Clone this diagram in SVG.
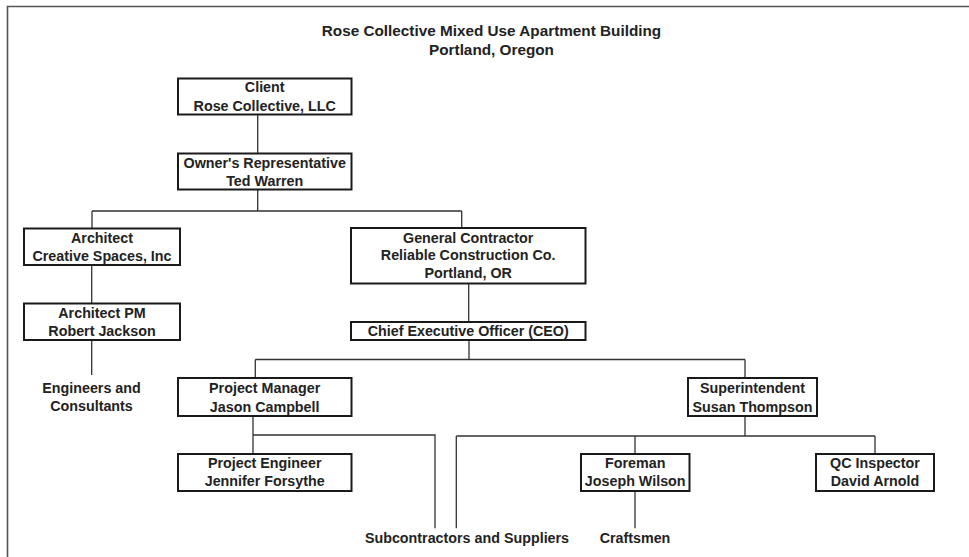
<svg xmlns="http://www.w3.org/2000/svg" width="969" height="557" viewBox="0 0 969 557">
  <style>
    .frame { fill: none; stroke: #555; stroke-width: 1.6; }
    .box { fill: #fff; stroke: #1a1a1a; stroke-width: 2; }
    .wire { fill: none; stroke: #333; stroke-width: 1.3; }
    text { font-family: "Liberation Sans", Arial, sans-serif; font-weight: bold; fill: #222; text-anchor: middle; }
    .title { font-size: 15.3px; }
    .lbl { font-size: 14.3px; }
  </style>
  <rect width="969" height="557" fill="#fff"/>

  <!-- page frame: top and left edges only -->
  <path class="frame" d="M7.5,557 V6.5 H969"/>

  <!-- heading -->
  <g id="title">
    <text class="title" x="491.5" y="36">Rose Collective Mixed Use Apartment Building</text>
    <text class="title" x="491.5" y="55">Portland, Oregon</text>
  </g>

  <!-- reporting lines -->
  <g id="connectors">
    <path class="wire" d="M257.7,115 V153"/>
    <path class="wire" d="M257.7,190 V211 M92,211 H461.7 M92,211 V228 M461.7,211 V228"/>
    <path class="wire" d="M91.7,265 V303"/>
    <path class="wire" d="M91.7,340 V375"/>
    <path class="wire" d="M468.7,284 V322"/>
    <path class="wire" d="M469,340 V359.5 M255.3,359.5 H745 M255.3,359.5 V378 M745,359.5 V378"/>
    <path class="wire" d="M253,416 V454 M253,435 H435 V528.3"/>
    <path class="wire" d="M745,416 V436 M456.3,436 H875 M456.3,436 V528.3 M635,436 V454 M875,436 V454"/>
    <path class="wire" d="M635,491 V528.3"/>
  </g>

  <g id="client">
    <rect class="box" x="178" y="78.5" width="173.5" height="36"/>
    <text class="lbl" x="264.7" y="91.7">Client</text>
    <text class="lbl" x="264.7" y="110.7">Rose Collective, LLC</text>
  </g>

  <g id="owners-rep">
    <rect class="box" x="178" y="153.5" width="173.5" height="36"/>
    <text class="lbl" x="264.7" y="168.3">Owner's Representative</text>
    <text class="lbl" x="264.7" y="186">Ted Warren</text>
  </g>

  <g id="architect">
    <rect class="box" x="24" y="228.5" width="156" height="36.5"/>
    <text class="lbl" x="102" y="242.7">Architect</text>
    <text class="lbl" x="102" y="261">Creative Spaces, Inc</text>
  </g>

  <g id="architect-pm">
    <rect class="box" x="24" y="303.5" width="156" height="36.5"/>
    <text class="lbl" x="102" y="318.3">Architect PM</text>
    <text class="lbl" x="102" y="336">Robert Jackson</text>
  </g>

  <g id="engineers">
    <text class="lbl" x="91.5" y="393.3">Engineers and</text>
    <text class="lbl" x="91.5" y="410.7">Consultants</text>
  </g>

  <g id="general-contractor">
    <rect class="box" x="351" y="228" width="234.5" height="55.5"/>
    <text class="lbl" x="468.2" y="242.7">General Contractor</text>
    <text class="lbl" x="468.2" y="260.3">Reliable Construction Co.</text>
    <text class="lbl" x="468.2" y="278.3">Portland, OR</text>
  </g>

  <g id="ceo">
    <rect class="box" x="351" y="322" width="234.5" height="18"/>
    <text class="lbl" x="468.2" y="336">Chief Executive Officer (CEO)</text>
  </g>

  <g id="project-manager">
    <rect class="box" x="178" y="378" width="173.5" height="38"/>
    <text class="lbl" x="264.7" y="393.3">Project Manager</text>
    <text class="lbl" x="264.7" y="412">Jason Campbell</text>
  </g>

  <g id="project-engineer">
    <rect class="box" x="178" y="454" width="173.5" height="37"/>
    <text class="lbl" x="264.7" y="468.3">Project Engineer</text>
    <text class="lbl" x="264.7" y="486.3">Jennifer Forsythe</text>
  </g>

  <g id="superintendent">
    <rect class="box" x="688" y="378" width="129" height="38"/>
    <text class="lbl" x="752.5" y="393.3">Superintendent</text>
    <text class="lbl" x="752.5" y="412">Susan Thompson</text>
  </g>

  <g id="foreman">
    <rect class="box" x="581" y="454" width="108.5" height="37"/>
    <text class="lbl" x="635.2" y="468.3">Foreman</text>
    <text class="lbl" x="635.2" y="486.3">Joseph Wilson</text>
  </g>

  <g id="qc-inspector">
    <rect class="box" x="816" y="454" width="118" height="37"/>
    <text class="lbl" x="875" y="468.3">QC Inspector</text>
    <text class="lbl" x="875" y="486.3">David Arnold</text>
  </g>

  <g id="subcontractors">
    <text class="lbl" x="467" y="543.3">Subcontractors and Suppliers</text>
  </g>

  <g id="craftsmen">
    <text class="lbl" x="635" y="543.3">Craftsmen</text>
  </g>
</svg>
